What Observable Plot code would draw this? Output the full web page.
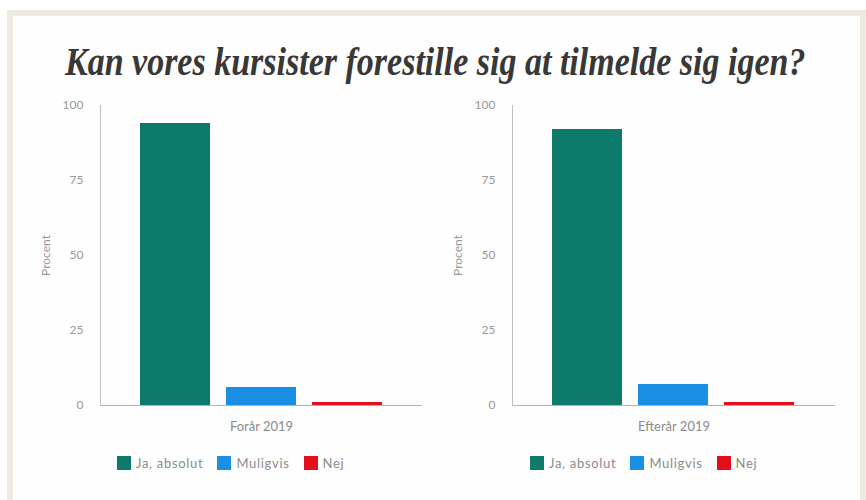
<!DOCTYPE html>
<html>
<head>
<meta charset="utf-8">
<script src="https://cdn.jsdelivr.net/npm/d3@7"></script>
<script src="https://cdn.jsdelivr.net/npm/@observablehq/plot@0.6"></script>
<style>
  html, body { margin: 0; padding: 0; background: #ffffff; width: 866px; height: 500px; overflow: hidden; position: relative; }
  #frame { position: absolute; left: 7px; top: 10px; width: 847px; height: 500px; border: 6px solid #eeeae1; border-bottom: none; background: #fefefe; }
  #title { position: absolute; left: 0; top: 38px; width: 866px; text-align: center; font-family: "Liberation Serif", serif; font-weight: bold; font-style: italic; font-size: 40px; color: #383838; white-space: nowrap; transform: scaleX(0.85); transform-origin: 433px 0; }
  .chart { position: absolute; top: 0; }
  .legend { position: absolute; top: 446px; }
  .legend span { margin-right: 14px !important; letter-spacing: 0.7px; }
  .legend span > svg { margin-right: 5px !important; }
</style>
</head>
<body>
<div id="frame"></div>
<div id="title">Kan vores kursister forestille sig at tilmelde sig igen?</div>
<div id="c0" class="chart" style="left:0px"></div>
<div id="c1" class="chart" style="left:433px"></div>
<div id="l0" class="legend" style="left:117px"></div>
<div id="l1" class="legend" style="left:530px"></div>
<script>
const periods = ["Forår 2019", "Efterår 2019"];
const answers = ["Ja, absolut", "Muligvis", "Nej"];
const valuesForaar = [94, 6, 1];
const valuesEfteraar = [92, 7, 1];
const colors = ["#0d7a6b", "#1a8fe3", "#e3101c"];
const yTicks = [0, 25, 50, 75, 100];
const yLabel = "Procent";

const seriesByPeriod = [valuesForaar, valuesEfteraar];
const layouts = [
  {marginLeft: 100, marginRight: 11},
  {marginLeft: 79, marginRight: 31}
];

periods.forEach((period, i) => {
  const data = answers.map((a, j) => ({answer: a, value: seriesByPeriod[i][j]}));
  const chart = Plot.plot({
    width: 433,
    height: 440,
    marginLeft: layouts[i].marginLeft,
    marginRight: layouts[i].marginRight,
    marginTop: 105,
    marginBottom: 35,
    style: {fontFamily: "Lato, sans-serif", fontSize: "12px", color: "#8c8c8c", background: "transparent", overflow: "visible"},
    x: {domain: answers, paddingInner: 0.186, paddingOuter: 0.465, axis: null},
    y: {domain: [0, 100], axis: null},
    color: {domain: answers, range: colors},
    marks: [
      Plot.barY(data, {x: "answer", y: "value", fill: "answer"}),
      Plot.ruleY([0], {stroke: "#b5b5b5"}),
      Plot.frame({anchor: "left", stroke: "#c0c0c0"}),
      Plot.axisY(yTicks, {tickSize: 0, tickPadding: 17, label: yLabel, labelAnchor: "center", labelOffset: 59, labelArrow: false, fontSize: 12, fill: "#999"}),
      Plot.axisX({ticks: [], label: period, labelAnchor: "center", labelOffset: 25, labelArrow: false, fontSize: 13})
    ]
  });
  document.getElementById("c" + i).appendChild(chart);
  const legend = Plot.legend({
    color: {domain: answers, range: colors},
    legend: "swatches",
    swatchSize: 14,
    style: {fontFamily: "Lato, sans-serif", fontSize: "13px", color: "#8c8c8c", marginLeft: 0}
  });
  document.getElementById("l" + i).appendChild(legend);
});
</script>
</body>
</html>
